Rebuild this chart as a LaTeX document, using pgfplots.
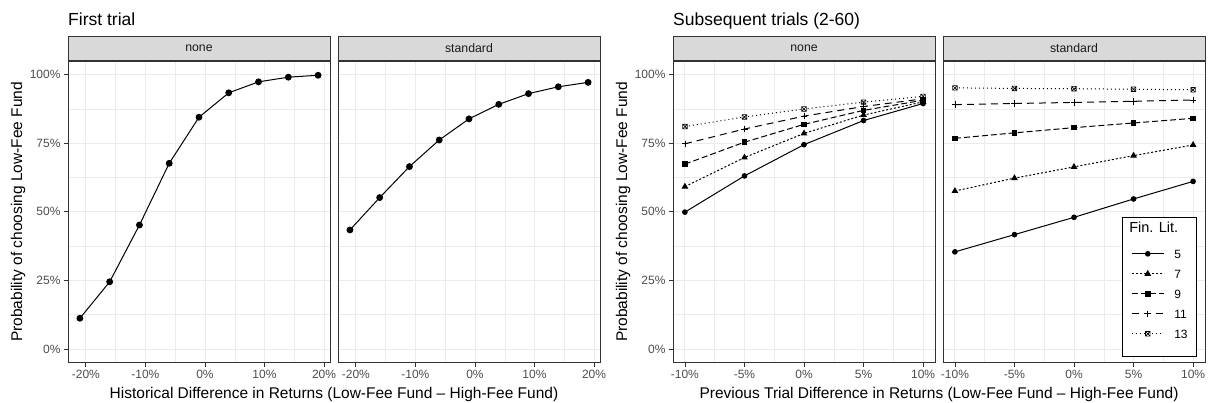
\documentclass[border=0pt]{standalone}
\usepackage{fontspec}
\setmainfont{Liberation Sans}
\usepackage{pgfplots}
\pgfplotsset{compat=1.18}

\definecolor{grey10}{HTML}{1A1A1A}
\definecolor{grey20}{HTML}{333333}
\definecolor{grey30}{HTML}{4D4D4D}
\definecolor{grey85}{HTML}{D9D9D9}
\definecolor{grey92}{HTML}{EBEBEB}

% square with a cross inside (ggplot shape 7)
\pgfdeclareplotmark{sqx}{%
  \pgfpathrectangle{\pgfqpoint{-\pgfplotmarksize}{-\pgfplotmarksize}}{\pgfqpoint{2\pgfplotmarksize}{2\pgfplotmarksize}}%
  \pgfpathmoveto{\pgfqpoint{-\pgfplotmarksize}{-\pgfplotmarksize}}%
  \pgfpathlineto{\pgfqpoint{\pgfplotmarksize}{\pgfplotmarksize}}%
  \pgfpathmoveto{\pgfqpoint{-\pgfplotmarksize}{\pgfplotmarksize}}%
  \pgfpathlineto{\pgfqpoint{\pgfplotmarksize}{-\pgfplotmarksize}}%
  \pgfusepathqstroke}

\pgfplotsset{
  panel/.style={
    scale only axis, width=262pt, height=301.7pt,
    at={(#1)}, anchor=north west,
    ymin=-5, ymax=105,
    ytick={0,25,50,75,100}, minor ytick={12.5,37.5,62.5,87.5},
    yticklabels={0\%,25\%,50\%,75\%,100\%},
    grid=both,
    major grid style={grey92, line width=0.9pt},
    minor grid style={grey92, line width=0.45pt},
    axis line style={grey20, line width=0.8pt},
    tick align=outside, major tick length=4pt, minor tick length=0pt,
    tick style={grey20, line width=0.8pt},
    tick pos=left,
    ticklabel style={font=\fontsize{12}{14}\selectfont, text=grey30},
    every axis title/.style={at={(0.5,1)}, anchor=south, fill=grey85, draw=grey20,
      line width=0.8pt, minimum width=262pt, minimum height=24pt, inner sep=0pt,
      font=\fontsize{12.3}{14}\selectfont, text=grey10},
    ylabel style={at={(axis description cs:-0.19,0.5)}, anchor=center,
      font=\fontsize{15.5}{18}\selectfont},
    xlabel style={at={(axis description cs:1.0153,-0.117)}, anchor=base,
      font=\fontsize{15.5}{18}\selectfont},
  },
  inner/.style={yticklabels={}, ytick style={draw=none}},
  firstx/.style={xmin=-23, xmax=21, xtick={-20,-10,0,10,20}, minor xtick={-15,-5,5,15},
    xticklabels={-20\%,-10\%,0\%,10\%,20\%}},
  laterx/.style={xmin=-11, xmax=11, xtick={-10,-5,0,5,10}, minor xtick={-7.5,-2.5,2.5,7.5},
    xticklabels={-10\%,-5\%,0\%,5\%,10\%}},
  big/.style={black, line width=1pt, mark=*, mark size=2.9pt, mark options={solid}},
  fl5/.style={black, line width=1pt, mark=*, mark size=2.3pt, mark options={solid}},
  fl7/.style={black, line width=1pt, dash pattern=on 2pt off 2pt, mark=triangle*, mark size=2.9pt, mark options={solid}},
  fl9/.style={black, line width=1pt, dash pattern=on 6pt off 3pt, mark=square*, mark size=2.3pt, mark options={solid}},
  fl11/.style={black, line width=1pt, dash pattern=on 7pt off 5pt, mark=+, mark size=3.3pt, mark options={solid, line width=0.7pt}},
  fl13/.style={black, line width=1pt, dash pattern=on 1pt off 3pt, mark=sqx, mark size=2.3pt, mark options={solid, line width=0.6pt}},
}

\begin{document}
\begin{tikzpicture}
\useasboundingbox (0pt,0pt) rectangle (1208pt,-403pt);

\node[anchor=base west, font=\fontsize{17.5}{20}\selectfont, inner sep=0pt] at (68pt,-26pt) {First trial};
\node[anchor=base west, font=\fontsize{17.5}{20}\selectfont, inner sep=0pt] at (673pt,-26pt) {Subsequent trials (2-60)};

% First trial, none
\begin{axis}[panel={68pt,-61pt}, firstx, title={none},
  ylabel={Probability of choosing Low-Fee Fund},
  xlabel={Historical Difference in Returns (Low-Fee Fund -- High-Fee Fund)}]
\addplot[big] table {
-21 11.2
-16 24.5
-11 45.2
-6  67.7
-1  84.5
4   93.4
9   97.4
14  99.1
19  99.8
};
\end{axis}

% First trial, standard
\begin{axis}[panel={338pt,-61pt}, firstx, inner, title={standard}]
\addplot[big] table {
-21 43.4
-16 55.2
-11 66.5
-6  76.2
-1  83.9
4   89.2
9   93.1
14  95.6
19  97.2
};
\end{axis}

% Subsequent trials, none
\begin{axis}[panel={673pt,-61pt}, laterx, title={none},
  ylabel={Probability of choosing Low-Fee Fund},
  xlabel={Previous Trial Difference in Returns (Low-Fee Fund -- High-Fee Fund)}]
\addplot[fl5] table {
-10 49.9
-5  63.1
0   74.5
5   83.3
10  89.5
};
\addplot[fl7] table {
-10 59.2
-5  69.8
0   78.6
5   85.3
10  90.1
};
\addplot[fl9] table {
-10 67.4
-5  75.4
0   81.9
5   87.0
10  90.7
};
\addplot[fl11] table {
-10 74.8
-5  80.2
0   84.9
5   88.4
10  91.2
};
\addplot[fl13] table {
-10 81.1
-5  84.6
0   87.5
5   90.0
10  92.1
};
\end{axis}

% Subsequent trials, standard
\begin{axis}[panel={943pt,-61pt}, laterx, inner, title={standard},
  legend cell align=left,
  legend image code/.code={\draw[mark repeat=2, mark phase=2, #1] plot coordinates {(0pt,0pt) (16pt,0pt) (32pt,0pt)};},
  legend style={at={(0.9695,0.019)}, anchor=south east, draw=black, line width=0.8pt,
    fill=white, font=\fontsize{12}{14}\selectfont, inner xsep=9pt, inner ysep=6pt,
    row sep=11.5pt, column sep=10pt,
    nodes={inner sep=0pt, text height=8.5pt, text depth=0pt}}]
\addlegendimage{empty legend}
\addlegendentry[font=\fontsize{14.5}{17}\selectfont, text depth=6pt]{\hspace*{-45pt}Fin. Lit.}
\addplot[fl5] table {
-10 35.4
-5  41.7
0   48.0
5   54.7
10  61.1
};
\addlegendentry{5}
\addplot[fl7] table {
-10 57.6
-5  62.3
0   66.4
5   70.5
10  74.4
};
\addlegendentry{7}
\addplot[fl9] table {
-10 76.8
-5  78.8
0   80.7
5   82.4
10  84.1
};
\addlegendentry{9}
\addplot[fl11] table {
-10 89.1
-5  89.5
0   89.9
5   90.3
10  90.8
};
\addlegendentry{11}
\addplot[fl13] table {
-10 95.2
-5  95.0
0   94.9
5   94.7
10  94.5
};
\addlegendentry{13}
\addlegendimage{empty legend}
\addlegendentry[text height=0pt]{}
\end{axis}
\end{tikzpicture}
\end{document}
